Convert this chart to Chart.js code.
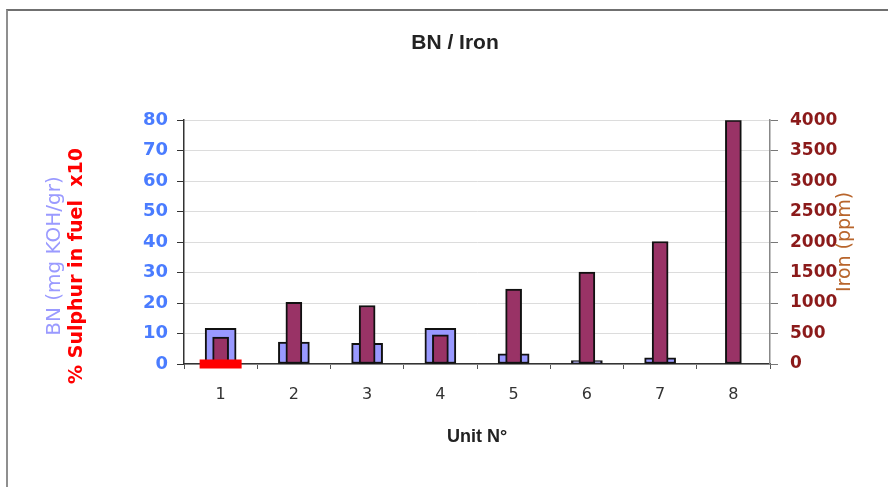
<!DOCTYPE html>
<html>
<head>
<meta charset="utf-8">
<script src="https://cdn.jsdelivr.net/npm/chart.js@4"></script>
<style>
  body { margin: 0; background: #fff; overflow: hidden; }
  #wrap { position: relative; width: 888px; height: 487px; }
  #frame { position: absolute; left: 6px; top: 9px; width: 1000px; height: 600px;
           border-left: 2px solid #8f8f8f; border-top: 2px solid #707070; pointer-events: none; }
</style>
</head>
<body>
<div id="wrap">
  <canvas id="grafico" width="888" height="487"></canvas>
  <div id="frame"></div>
</div>
<script>
// datos
const units = ['1', '2', '3', '4', '5', '6', '7', '8'];
const bnValues = [11.7, 7.2, 6.8, 11.7, 3.3, 1.1, 2.0, null];       // BN (mg KOH/gr)
const ironValues = [440, 1010, 960, 480, 1230, 1510, 2010, 4000];    // Iron (ppm)
const sulphurValues = [0, null, null, null, null, null, null, null]; // % Sulphur x10
const leftTicksMax = 80;
const rightTicksMax = 4000;

const FONT = 'DejaVu Sans';

// titulos de los ejes laterales (girados hacia arriba)
const sideTitles = {
  id: 'sideTitles',
  afterDraw(chart) {
    const ctx = chart.ctx;
    function drawUp(text, x, y, font, color) {
      ctx.save();
      ctx.translate(x, y);
      ctx.rotate(-Math.PI / 2);
      ctx.font = font;
      ctx.fillStyle = color;
      ctx.textAlign = 'center';
      ctx.textBaseline = 'middle';
      ctx.fillText(text, 0, 0);
      ctx.restore();
    }
    drawUp('BN (mg KOH/gr)', 55, 256, '20px "' + FONT + '"', '#9a9aff');
    drawUp('% Sulphur in fuel  x10', 77, 266, 'bold 19px "' + FONT + '"', '#ff0000');
    drawUp('Iron (ppm)', 845, 242, '19px "' + FONT + '"', '#b8652c');
  }
};

const ctx = document.getElementById('grafico').getContext('2d');
new Chart(ctx, {
  type: 'bar',
  data: {
    labels: units,
    datasets: [
      {
        type: 'line',
        label: '% Sulphur in fuel x10',
        data: sulphurValues,
        yAxisID: 'y',
        showLine: false,
        pointStyle: 'line',
        pointRadius: 21,
        pointHoverRadius: 21,
        pointBorderWidth: 9,
        pointBorderColor: '#ff0000',
        borderColor: '#ff0000',
        clip: false,
        order: 0
      },
      {
        label: 'Iron',
        data: ironValues,
        yAxisID: 'y1',
        backgroundColor: '#993366',
        borderColor: '#111',
        borderWidth: 2,
        borderSkipped: false,
        barThickness: 16,
        grouped: false,
        order: 1
      },
      {
        label: 'BN',
        data: bnValues,
        yAxisID: 'y',
        backgroundColor: '#9999ff',
        borderColor: '#111',
        borderWidth: 2,
        borderSkipped: false,
        barThickness: 31,
        grouped: false,
        order: 2
      }
    ]
  },
  options: {
    responsive: false,
    animation: false,
    layout: { padding: { left: 22, right: 0, top: 0, bottom: 0 } },
    plugins: {
      legend: { display: false },
      tooltip: { enabled: false },
      title: {
        display: true,
        text: 'BN / Iron',
        color: '#222',
        font: { family: 'Liberation Sans', size: 21, weight: 'bold' },
        padding: { top: 31, bottom: 64 }
      }
    },
    scales: {
      x: {
        offset: true,
        grid: { display: true, drawOnChartArea: false, tickLength: 5, tickColor: '#555', offset: true },
        border: { color: '#333', width: 1.5 },
        ticks: { color: '#333', padding: 16, font: { family: FONT, size: 16 } },
        title: {
          display: true,
          text: 'Unit N°',
          color: '#222',
          font: { family: 'Liberation Sans', size: 18, weight: 'bold' },
          padding: { top: 0, bottom: 39 }
        },
        afterFit: s => { s.height = 123; }
      },
      y: {
        position: 'left',
        min: 0,
        max: leftTicksMax,
        ticks: { stepSize: 10, color: '#4a7cff', padding: 9, font: { family: FONT, size: 18, weight: 'bold' } },
        grid: { color: '#dcdcdc', lineWidth: 1, tickColor: '#333', tickLength: 7 },
        border: { color: '#333', width: 1.5 },
        afterFit: s => { s.width = 162; }
      },
      y1: {
        position: 'right',
        min: 0,
        max: rightTicksMax,
        ticks: {
          stepSize: 500,
          color: '#8b1a1a',
          padding: 12,
          font: { family: FONT, size: 17, weight: 'bold' },
          callback: v => String(v)
        },
        grid: { drawOnChartArea: false, tickColor: '#777', tickLength: 8 },
        border: { color: '#888', width: 1.5 },
        afterFit: s => { s.width = 118; }
      }
    }
  },
  plugins: [sideTitles]
});
</script>
</body>
</html>
